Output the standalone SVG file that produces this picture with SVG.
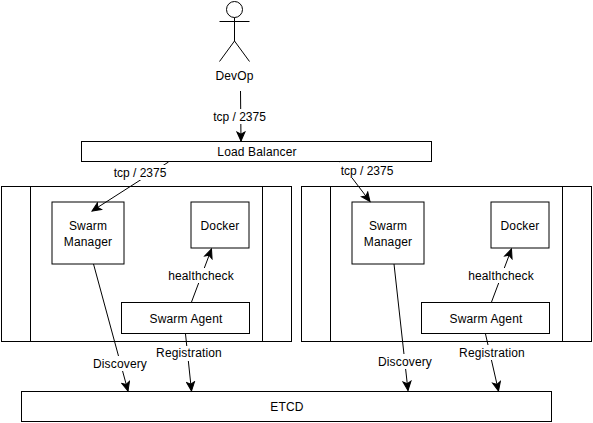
<svg xmlns="http://www.w3.org/2000/svg" width="593" height="423" viewBox="0 0 593 423">
<style>
.b{fill:#fff;stroke:#000;stroke-width:1}
.n{fill:none;stroke:#000;stroke-width:1}
.c{fill:none;stroke:#000;stroke-width:1;marker-end:url(#a)}
text{font-family:"Liberation Sans",Arial,Helvetica,sans-serif;font-size:12px;fill:#000;text-anchor:middle;letter-spacing:.15px}
text.t{letter-spacing:0}
.l{fill:#fff;stroke:none}
</style>
<defs>
<marker id="a" markerUnits="userSpaceOnUse" markerWidth="12" markerHeight="10" refX="10" refY="5" orient="auto">
<path d="M1 1 L10 5 L1 9 L3.2 5 Z" fill="#000" stroke="#000" stroke-width="1"/>
</marker>
</defs>
<rect width="593" height="423" fill="#fff"/>
<g id="devop">
<circle class="n" cx="234.5" cy="9.500" r="8"/>
<path class="n" d="M234.500 17.500V41M219.500 21.500H249.500M234.500 41L219.500 61.500M234.500 41L249.500 61.500"/>
<text x="234.500" y="80">DevOp</text>
</g>
<g id="load-balancer"><rect class="b" x="81.500" y="141.500" width="350" height="20"/><text x="257" y="156">Load Balancer</text></g>
<g id="cluster-left"><rect class="b" x="1.500" y="186.500" width="290" height="155"/><path class="n" d="M30.500 186.500V341.500M262.500 186.500V341.500"/></g>
<g id="cluster-right"><rect class="b" x="301.500" y="186.500" width="290" height="155"/><path class="n" d="M330.500 186.500V341.500M562.500 186.500V341.500"/></g>
<g id="manager-left"><rect class="b" x="52" y="202" width="72" height="62"/><text x="88" y="230">Swarm</text><text x="88" y="246">Manager</text></g>
<g id="docker-left"><rect class="b" x="191" y="202" width="58" height="46"/><text x="220" y="230">Docker</text></g>
<g id="agent-left"><rect class="b" x="121.500" y="302.500" width="128" height="31"/><text x="186" y="323">Swarm Agent</text></g>
<g id="manager-right"><rect class="b" x="352" y="202" width="72" height="62"/><text x="388" y="230">Swarm</text><text x="388" y="246">Manager</text></g>
<g id="docker-right"><rect class="b" x="491" y="202" width="58" height="46"/><text x="520" y="230">Docker</text></g>
<g id="agent-right"><rect class="b" x="421.500" y="302.500" width="128" height="31"/><text x="486" y="323">Swarm Agent</text></g>
<g id="etcd"><rect class="b" x="21.500" y="391.500" width="530" height="30"/><text x="287" y="411">ETCD</text></g>
<g id="connectors">
<path class="c" d="M240.500 91L241 141"/>
<path class="c" d="M168.500 162L92 211"/>
<path class="c" d="M340 162L370 201.500"/>
<path class="c" d="M93.500 264L128 391"/>
<path class="c" d="M394 264L408 390.500"/>
<path class="c" d="M185.500 334L191.500 391"/>
<path class="c" d="M485.500 334L498.500 391"/>
<path class="c" d="M191.500 302L211.500 249"/>
<path class="c" d="M491.500 302L511.500 249"/>
<rect class="l" x="212" y="109" width="55" height="15"/><text class="t" x="239.500" y="121">tcp / 2375</text>
<rect class="l" x="113" y="165" width="55" height="15"/><text class="t" x="140" y="177">tcp / 2375</text>
<rect class="l" x="340" y="162" width="55" height="16"/><text class="t" x="367" y="175">tcp / 2375</text>
<rect class="l" x="92" y="356" width="56" height="15"/><text x="120" y="368">Discovery</text>
<rect class="l" x="377" y="354" width="56" height="15"/><text x="405" y="366">Discovery</text>
<rect class="l" x="156" y="346" width="66" height="15"/><text x="189" y="357">Registration</text>
<rect class="l" x="459" y="345" width="66" height="15"/><text x="492" y="357">Registration</text>
<rect class="l" x="167" y="268" width="68" height="15"/><text x="201" y="280">healthcheck</text>
<rect class="l" x="467" y="268" width="68" height="15"/><text x="501" y="280">healthcheck</text>
</g>
</svg>
